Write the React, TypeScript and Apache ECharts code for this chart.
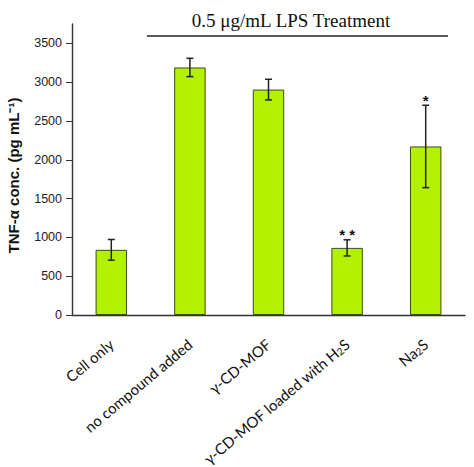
import { useEffect, useRef } from "react";
import * as echarts from "echarts";

const categories = [
  "Cell only",
  "no compound added",
  "γ-CD-MOF",
  "γ-CD-MOF loaded with H₂S",
  "Na₂S",
];
const means = [840, 3190, 2905, 865, 2172];
const errors = [133, 118, 133, 104, 531];
const stars = ["", "", "", "**", "*"];
const yTicks = [0, 500, 1000, 1500, 2000, 2500, 3000, 3500];
const yMax = 3750;

export default function App() {
  const chartRef = useRef<HTMLDivElement | null>(null);

  useEffect(() => {
    document.body.style.margin = "0";
    if (!chartRef.current) return;
    const chart = echarts.init(chartRef.current, undefined, { renderer: "svg" });

    const errData = means.map((m, i) => [i, m - errors[i], m + errors[i]]);

    const option = {
      animation: false,
      grid: {
        left: 72,
        right: 9,
        top: 24,
        bottom: 152,
        containLabel: false,
        outerBoundsMode: "none",
      },
      graphic: [
        {
          type: "text",
          x: 291,
          y: 20,
          style: {
            text: "0.5 μg/mL LPS Treatment",
            font: '19px "Liberation Serif"',
            fill: "#111",
            textAlign: "center",
            textVerticalAlign: "middle",
          },
        },
        {
          type: "line",
          shape: { x1: 147, y1: 36, x2: 448, y2: 36 },
          style: { stroke: "#222", lineWidth: 1.3 },
        },
      ],
      xAxis: {
        type: "category",
        data: categories,
        axisLine: { lineStyle: { color: "#333", width: 1.4 } },
        axisTick: { show: false },
        axisLabel: {
          interval: 0,
          rotate: 40,
          margin: 27,
          fontFamily: "Lato",
          fontSize: 15,
          color: "#111",
          formatter: (v: string) => v.replace("₂", "{sub|2}"),
          rich: {
            sub: {
              fontFamily: "Lato",
              fontSize: 10,
              verticalAlign: "bottom",
              color: "#111",
            },
          },
        },
      },
      yAxis: {
        type: "value",
        min: 0,
        max: yMax,
        interval: 500,
        name: "TNF-α conc. (pg mL⁻¹)",
        nameLocation: "middle",
        nameGap: 51,
        nameTextStyle: {
          fontFamily: "Liberation Sans",
          fontWeight: "bold",
          fontSize: 15,
          color: "#111",
          padding: [0, 12, 0, 0],
        },
        axisLine: { show: true, lineStyle: { color: "#333", width: 1.4 } },
        axisTick: {
          show: true,
          length: 6,
          customValues: yTicks,
          lineStyle: { color: "#333" },
        },
        axisLabel: {
          customValues: yTicks,
          margin: 10,
          fontFamily: "Liberation Sans",
          fontSize: 12.5,
          color: "#222",
          formatter: (v: number) => String(v),
        },
        splitLine: { show: false },
      },
      series: [
        {
          type: "bar",
          data: means,
          barWidth: "40%",
          itemStyle: { color: "#b2f200", borderColor: "#3d4a12", borderWidth: 1 },
        },
        {
          type: "custom",
          data: errData,
          z: 5,
          renderItem: (params: any, api: any) => {
            const x = api.value(0);
            const lo = api.coord([x, api.value(1)]);
            const hi = api.coord([x, api.value(2)]);
            const cap = 3.5;
            const style = { stroke: "#222", lineWidth: 1.5 };
            const star = stars[params.dataIndex];
            const children: any[] = [
              { type: "line", shape: { x1: hi[0], y1: hi[1], x2: lo[0], y2: lo[1] }, style },
              { type: "line", shape: { x1: hi[0] - cap, y1: hi[1], x2: hi[0] + cap, y2: hi[1] }, style },
              { type: "line", shape: { x1: lo[0] - cap, y1: lo[1], x2: lo[0] + cap, y2: lo[1] }, style },
            ];
            if (star) {
              children.push({
                type: "text",
                x: hi[0],
                y: hi[1] - 5,
                style: {
                  text: star.split("").join(" "),
                  font: 'bold 15px "Liberation Sans"',
                  fill: "#111",
                  textAlign: "center",
                  textVerticalAlign: "middle",
                },
              });
            }
            return { type: "group", children };
          },
        },
      ],
    };

    chart.setOption(option as any);
    return () => chart.dispose();
  }, []);

  return <div ref={chartRef} style={{ width: 474, height: 467 }} />;
}
